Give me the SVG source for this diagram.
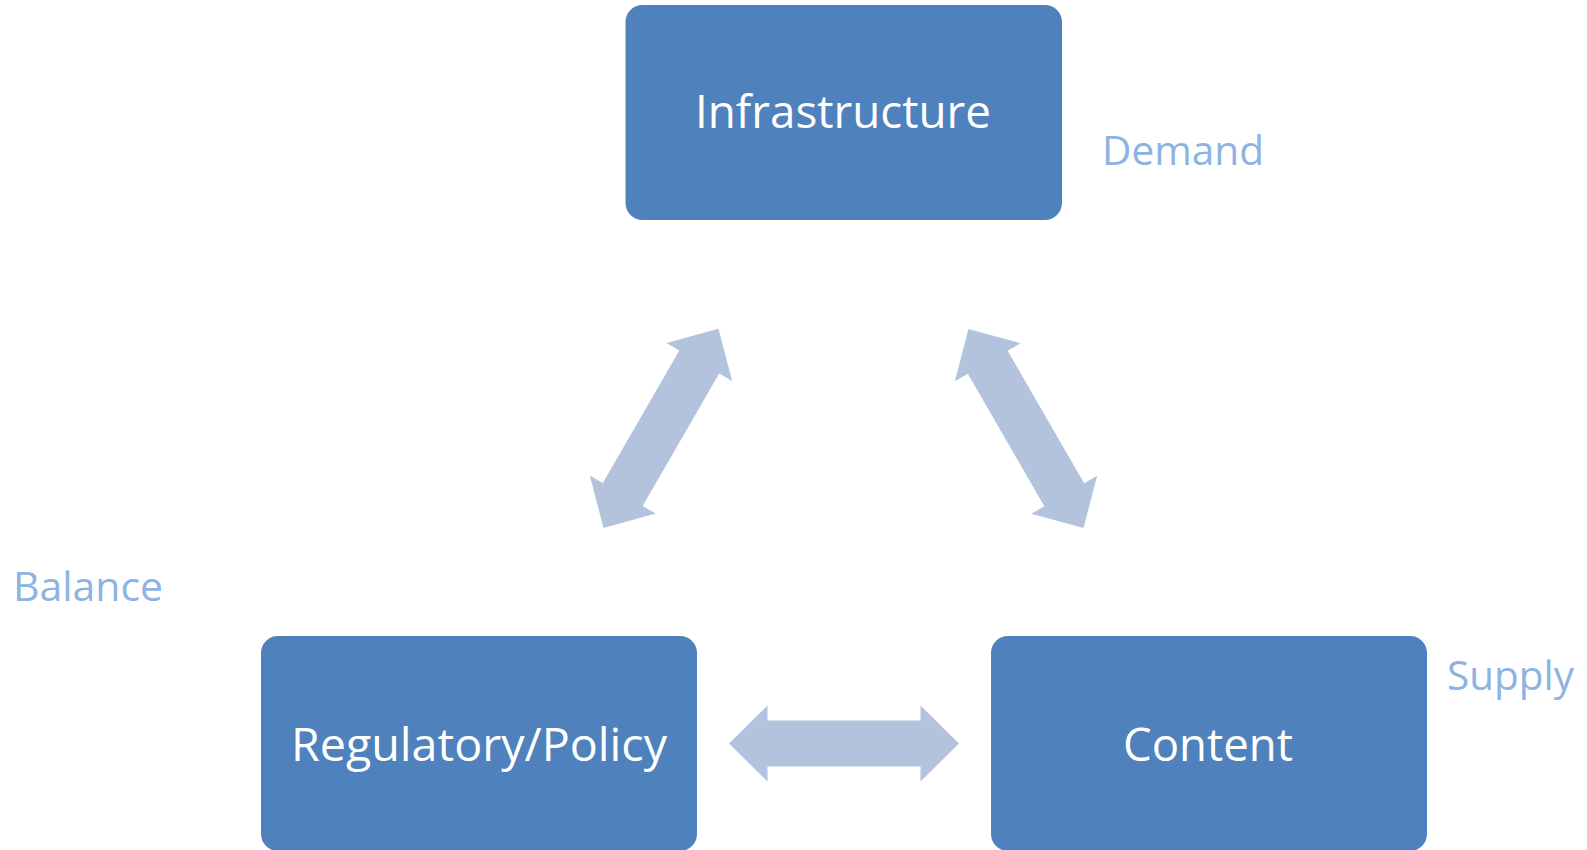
<svg xmlns="http://www.w3.org/2000/svg" xmlns:xlink="http://www.w3.org/1999/xlink" width="1587" height="850" viewBox="0 0 1587 850">
  <style>
    .box { fill: #4F81BD; }
    .box-text { fill: #FFFFFF; font-family: "Open Sans", "Noto Sans", "Liberation Sans", sans-serif; font-size: 46.5px; }
    .label { fill: #8DB3E2; font-family: "Open Sans", "Noto Sans", "Liberation Sans", sans-serif; font-size: 39.5px; }
    .arrow { fill: #B3C3DE; }
  </style>
  <defs>
    <path id="dblArrow" d="M -115,0 L -76.5,-38 L -76.5,-23 L 76.5,-23 L 76.5,-38 L 115,0 L 76.5,38 L 76.5,23 L -76.5,23 L -76.5,38 Z"/>
  </defs>
  <rect width="1587" height="850" fill="#FFFFFF"/>

  <g id="connectors">
    <use xlink:href="#dblArrow" class="arrow" transform="translate(661,428.3) rotate(-60)"/>
    <use xlink:href="#dblArrow" class="arrow" transform="translate(1026,428.5) rotate(60)"/>
    <use xlink:href="#dblArrow" class="arrow" transform="translate(844,743.5)"/>
  </g>

  <g id="node-infrastructure">
    <rect class="box" x="625.5" y="5" width="436.5" height="215" rx="17" ry="17"/>
    <text class="box-text" x="695" y="128" textLength="296" lengthAdjust="spacingAndGlyphs">Infrastructure</text>
  </g>

  <g id="node-regulatory">
    <rect class="box" x="261" y="636" width="436" height="215" rx="17" ry="17"/>
    <text class="box-text" x="291" y="760.5" textLength="376" lengthAdjust="spacingAndGlyphs">Regulatory/Policy</text>
  </g>

  <g id="node-content">
    <rect class="box" x="991" y="636" width="436" height="215" rx="17" ry="17"/>
    <text class="box-text" x="1123" y="760.5" textLength="170" lengthAdjust="spacingAndGlyphs">Content</text>
  </g>

  <g id="label-demand">
    <text class="label" x="1102" y="164.5" textLength="162" lengthAdjust="spacingAndGlyphs">Demand</text>
  </g>
  <g id="label-balance">
    <text class="label" x="13" y="600.7" textLength="150" lengthAdjust="spacingAndGlyphs">Balance</text>
  </g>
  <g id="label-supply">
    <text class="label" x="1447" y="690" textLength="127" lengthAdjust="spacingAndGlyphs">Supply</text>
  </g>
</svg>
